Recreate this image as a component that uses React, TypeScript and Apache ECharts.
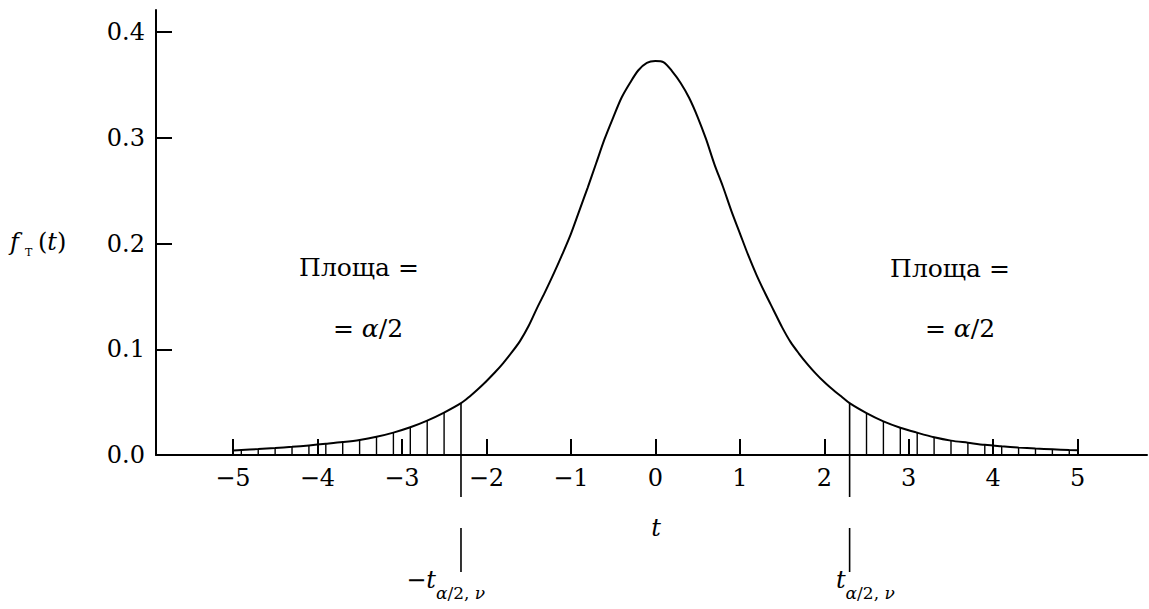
import React, { useEffect, useRef } from "react";
import * as echarts from "echarts";

const T = [
  -5.0, -4.9, -4.7, -4.5, -4.3, -4.1, -3.9, -3.7, -3.5, -3.3, -3.1, -2.9, -2.7, -2.5, -2.3,
  -2.2, -2.1, -2.0, -1.9, -1.8, -1.7, -1.6, -1.5, -1.4, -1.3, -1.2, -1.1, -1.0, -0.9, -0.8,
  -0.7, -0.6, -0.5, -0.4, -0.3, -0.2, -0.1, 0.0, 0.1, 0.2, 0.3, 0.4, 0.5, 0.6, 0.7, 0.8, 0.9,
  1.0, 1.1, 1.2, 1.3, 1.4, 1.5, 1.6, 1.7, 1.8, 1.9, 2.0, 2.1, 2.2, 2.3, 2.5, 2.7, 2.9, 3.1,
  3.3, 3.5, 3.7, 3.9, 4.1, 4.3, 4.5, 4.7, 4.9, 5.0,
];
const F = [
  0.0042, 0.0047, 0.0056, 0.0066, 0.0077, 0.0091, 0.0106, 0.0122, 0.0142, 0.0172, 0.0212, 0.0262,
  0.0325, 0.0401, 0.049, 0.0552, 0.0622, 0.0698, 0.078, 0.087, 0.097, 0.108, 0.122, 0.139, 0.155,
  0.172, 0.19, 0.209, 0.231, 0.253, 0.276, 0.299, 0.319, 0.338, 0.352, 0.364, 0.371, 0.3727,
  0.3715, 0.363, 0.352, 0.338, 0.32, 0.299, 0.275, 0.254, 0.231, 0.21, 0.189, 0.17, 0.153, 0.137,
  0.121, 0.107, 0.096, 0.086, 0.077, 0.069, 0.062, 0.0555, 0.049, 0.0396, 0.0318, 0.0258, 0.0211,
  0.0168, 0.0136, 0.0116, 0.0096, 0.0082, 0.007, 0.0061, 0.0054, 0.0047, 0.0046,
];
const T_CRIT = 2.3;
const X_TICKS = [-5, -4, -3, -2, -1, 0, 1, 2, 3, 4, 5];
const Y_TICKS = [0, 0.1, 0.2, 0.3, 0.4];
const AREA_LINE1 = "Площа =";
const AREA_LINE2 = "= {i|α}/2";

const FONT = "DejaVu Serif";
const FS = 24;

export default function App() {
  const ref = useRef<HTMLDivElement>(null);
  useEffect(() => {
    if (!ref.current) return;
    const chart = echarts.init(ref.current, null, { renderer: "svg" });
    const curve = T.map((t, i) => [t, F[i]]);
    const hatch = curve.filter((p) => Math.abs(p[0]) > T_CRIT + 0.05 && Math.abs(p[0]) < 4.95);
    const critIdx = T.map((t, i) => (Math.abs(Math.abs(t) - T_CRIT) < 1e-6 ? i : -1)).filter((i) => i >= 0);
    const crit = critIdx.map((i) => [T[i], F[i]]);

    const fmtX = (v: number) => (v < 0 ? "\u2212" + Math.abs(v) : String(v));
    const italic = { fontFamily: FONT, fontStyle: "italic", fill: "#000", color: "#000" };

    chart.setOption({
      animation: false,
      backgroundColor: "#fff",
      grid: { left: 156, right: 2, top: 10, bottom: 154, containLabel: false },
      xAxis: {
        type: "value",
        min: -5.91,
        max: 5.82,
        splitLine: { show: false },
        axisLine: { onZero: true, lineStyle: { color: "#000", width: 2 } },
        axisTick: { inside: true, length: 16, customValues: X_TICKS, lineStyle: { color: "#000", width: 2 } },
        axisLabel: {
          customValues: X_TICKS,
          formatter: fmtX,
          color: "#000",
          fontFamily: FONT,
          fontSize: FS,
          margin: 11,
        },
      },
      yAxis: {
        type: "value",
        min: 0,
        max: 0.421,
        splitLine: { show: false },
        axisLine: { onZero: false, lineStyle: { color: "#000", width: 2 } },
        axisTick: { inside: true, length: 16, customValues: Y_TICKS.slice(1), lineStyle: { color: "#000", width: 2 } },
        axisLabel: {
          customValues: Y_TICKS,
          formatter: (v: number) => v.toFixed(1),
          color: "#000",
          fontFamily: FONT,
          fontSize: FS,
          margin: 11,
        },
      },
      series: [
        {
          type: "line",
          data: curve,
          showSymbol: false,
          symbol: "none",
          smooth: 0.3,
          lineStyle: { color: "#000", width: 2 },
          z: 3,
        },
        {
          type: "custom",
          data: hatch,
          renderItem: (params: any, api: any) => {
            const x = api.value(0);
            const y = api.value(1);
            const p0 = api.coord([x, 0]);
            const p1 = api.coord([x, y]);
            return {
              type: "line",
              shape: { x1: p0[0], y1: p0[1], x2: p1[0], y2: p1[1] },
              style: { stroke: "#000", lineWidth: 1.4 },
            };
          },
          z: 2,
        },
        {
          type: "custom",
          data: crit,
          clip: false,
          renderItem: (params: any, api: any) => {
            const x = api.value(0);
            const y = api.value(1);
            const p0 = api.coord([x, 0]);
            const p1 = api.coord([x, y]);
            const neg = x < 0;
            const xc = p0[0];
            const ya = p0[1];
            return {
              type: "group",
              children: [
                {
                  type: "line",
                  shape: { x1: xc, y1: p1[1], x2: xc, y2: ya + 42 },
                  style: { stroke: "#000", lineWidth: 1.6 },
                },
                {
                  type: "line",
                  shape: { x1: xc, y1: ya + 73, x2: xc, y2: ya + 117 },
                  style: { stroke: "#000", lineWidth: 1.6 },
                },
                {
                  type: "text",
                  x: neg ? xc - 25 : xc - 4,
                  y: ya + 125,
                  style: {
                    text: neg ? "\u2212{i|t}" : "{i|t}",
                    fontFamily: FONT,
                    fontSize: FS,
                    fill: "#000",
                    align: "right",
                    verticalAlign: "middle",
                    rich: { i: { ...italic, fontSize: FS } },
                  },
                },
                {
                  type: "text",
                  x: neg ? xc - 25 : xc - 4,
                  y: ya + 138,
                  style: {
                    text: "{i|α}/2, {i|ν}",
                    fontFamily: FONT,
                    fontSize: 17,
                    fill: "#000",
                    align: "left",
                    verticalAlign: "middle",
                    rich: { i: { ...italic, fontSize: 17 } },
                  },
                },
              ],
            };
          },
          z: 4,
        },
      ],
      graphic: [
        { type: "text", left: 10, top: 230, style: { text: "f", fontFamily: FONT, fontSize: FS, fontStyle: "italic", fill: "#000" } },
        { type: "text", left: 25, top: 247, style: { text: "T", fontFamily: FONT, fontSize: 11, fill: "#000" } },
        {
          type: "text",
          left: 38,
          top: 230,
          style: {
            text: "({i|t})",
            fontFamily: FONT,
            fontSize: FS,
            fill: "#000",
            rich: { i: { ...italic, fontSize: FS } },
          },
        },
        {
          type: "text",
          x: 656,
          y: 528,
          style: { text: "t", fontFamily: FONT, fontSize: FS, fontStyle: "italic", fill: "#000", align: "center", verticalAlign: "middle" },
        },
        { type: "text", x: 359, y: 267, style: { text: AREA_LINE1, fontFamily: FONT, fontSize: 25, fill: "#000", align: "center", verticalAlign: "middle" } },
        {
          type: "text",
          x: 368,
          y: 328,
          style: {
            text: AREA_LINE2,
            fontFamily: FONT,
            fontSize: 25,
            fill: "#000",
            align: "center",
            verticalAlign: "middle",
            rich: { i: { ...italic, fontSize: 25 } },
          },
        },
        { type: "text", x: 950, y: 268, style: { text: AREA_LINE1, fontFamily: FONT, fontSize: 25, fill: "#000", align: "center", verticalAlign: "middle" } },
        {
          type: "text",
          x: 960,
          y: 328,
          style: {
            text: AREA_LINE2,
            fontFamily: FONT,
            fontSize: 25,
            fill: "#000",
            align: "center",
            verticalAlign: "middle",
            rich: { i: { ...italic, fontSize: 25 } },
          },
        },
      ],
    });
    return () => chart.dispose();
  }, []);
  return (
    <div
      ref={ref}
      style={{ position: "fixed", left: 0, top: 0, width: 1149, height: 609, background: "#fff" }}
    />
  );
}
